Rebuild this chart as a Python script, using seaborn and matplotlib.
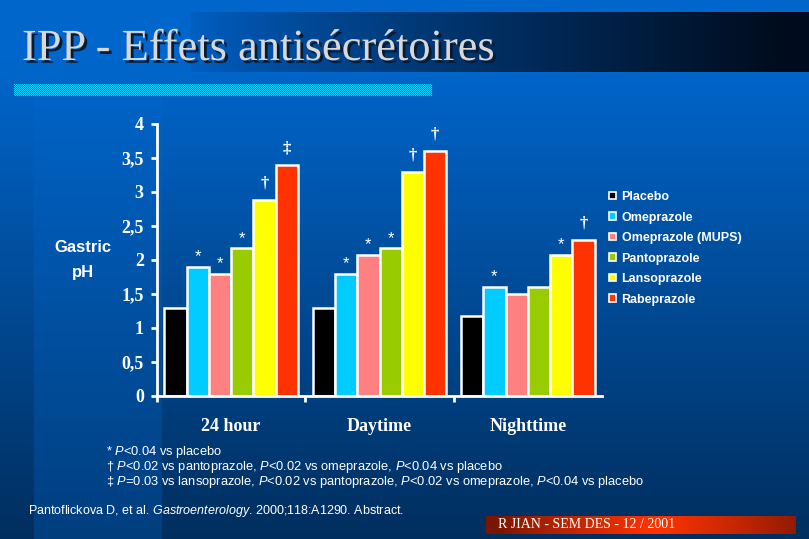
import numpy as np
import pandas as pd
import matplotlib
matplotlib.use("Agg")
import matplotlib.pyplot as plt
import matplotlib.patches as mpatches
import matplotlib.patheffects as pe
import seaborn as sns

# chart data
periods = ["24 hour", "Daytime", "Nighttime"]
drugs = ["Placebo", "Omeprazole", "Omeprazole (MUPS)", "Pantoprazole", "Lansoprazole", "Rabeprazole"]
ph_placebo = [1.3, 1.3, 1.18]
ph_omep = [1.9, 1.8, 1.6]
ph_mups = [1.8, 2.08, 1.5]
ph_panto = [2.17, 2.17, 1.6]
ph_lanso = [2.88, 3.3, 2.08]
ph_rabe = [3.4, 3.6, 2.3]
marks_placebo = ["", "", ""]
marks_omep = ["*", "*", "*"]
marks_mups = ["*", "*", ""]
marks_panto = ["*", "*", ""]
marks_lanso = ["\u2020", "\u2020", "*"]
marks_rabe = ["\u2021", "\u2020", "\u2020"]
yticks = [0, 0.5, 1, 1.5, 2, 2.5, 3, 3.5, 4]
ytick_labels = ["0", "0,5", "1", "1,5", "2", "2,5", "3", "3,5", "4"]
colors = ["#000000", "#00ccff", "#ff8080", "#99cc00", "#ffff00", "#ff3300"]

values = [ph_placebo, ph_omep, ph_mups, ph_panto, ph_lanso, ph_rabe]
marks = [marks_placebo, marks_omep, marks_mups, marks_panto, marks_lanso, marks_rabe]
rows = []
for d, vals in zip(drugs, values):
    for p, v in zip(periods, vals):
        rows.append({"period": p, "drug": d, "ph": v})
df = pd.DataFrame(rows)

plt.rcParams["mathtext.fontset"] = "custom"
plt.rcParams["mathtext.it"] = "Liberation Sans:italic"
plt.rcParams["mathtext.rm"] = "Liberation Sans"

W, H = 809, 539
fig = plt.figure(figsize=(W / 100, H / 100), dpi=100)


def px(x, y):
    return x / W, 1 - y / H


# slide background
yy = np.clip((np.arange(H) - 60) / (H - 60), 0, 1)[:, None]
top = np.array([0, 102, 204]) / 255
bot = np.array([0, 46, 94]) / 255
bot_band = np.array([0, 62, 126]) / 255
bg = top + (bot - top) * yy[..., None]
bg = np.repeat(bg, W, axis=1)
band = top + (bot_band - top) * yy[..., None]
bg[:, 34:162] = band[:, 0][:, None, :]

# title band gradient
tx = np.clip((np.arange(W) - 190) / (780 - 190), 0, 1) ** 0.8
c0 = np.array([0, 96, 196]) / 255
c1 = np.array([0, 12, 30]) / 255
bg[12:72, 190:] = (c0 + (c1 - c0) * tx[190:, None])[None, :, :]

# checkered strip
cy, cx = np.mgrid[84:96, 14:432]
chk = ((cx + cy) % 2 == 0)[..., None]
bg[84:96, 14:432] = np.where(chk, np.array([0, 204, 255]) / 255, np.array([0, 102, 204]) / 255)

# footer banner
fx = np.arange(486, 796)
t = (fx - 486) / (796 - 486)
w = np.clip(1 - np.abs(t - 0.55) / 0.5, 0, 1) ** 0.8
d0 = np.array([122, 22, 0]) / 255
d1 = np.array([255, 51, 0]) / 255
bg[516:534, 486:796] = (d0 + (d1 - d0) * w[:, None])[None, :, :]

bax = fig.add_axes([0, 0, 1, 1], zorder=0)
bax.imshow(bg, aspect="auto", interpolation="nearest", extent=(0, W, H, 0))
bax.set_axis_off()

# title
fig.text(*px(22, 60), "IPP - Effets antis\u00e9cr\u00e9toires", family="Liberation Serif",
         fontsize=32, color="#d8d8d8", va="baseline", ha="left",
         path_effects=[pe.SimplePatchShadow(offset=(2, -2), shadow_rgbFace="#0a1a30", alpha=1), pe.Normal()])

# bar chart
ax = fig.add_axes([157 / W, 1 - 396 / H, 445 / W, 272 / H], zorder=2)
ax.set_facecolor("none")
sns.barplot(data=df, x="period", y="ph", hue="drug", order=periods, hue_order=drugs,
            palette=colors, width=0.9, edgecolor="white", linewidth=1.8, saturation=1,
            legend=False, ax=ax)

for cont, mk in zip(ax.containers, marks):
    for bar, m in zip(cont, mk):
        if not m:
            continue
        if m == "*":
            ax.annotate(m, (bar.get_x() + bar.get_width() / 2, bar.get_height()), xytext=(0, 2),
                        textcoords="offset points", ha="center", va="bottom", color="white",
                        fontsize=12, family="Liberation Sans")
        else:
            ax.annotate(m, (bar.get_x() + bar.get_width() / 2, bar.get_height()), xytext=(0, 6),
                        textcoords="offset points", ha="center", va="bottom", color="white",
                        fontsize=12, family="Liberation Serif", weight="bold")

ax.set_ylim(0, 4)
ax.set_xlim(-0.5, 2.5)
ax.set_yticks(yticks, labels=ytick_labels)
ax.set_xticks([-0.5, 0.5, 1.5], labels=["", "", ""])
ax.set_xticks([0, 1, 2], labels=periods, minor=True)
ax.set_xlabel("")
ax.set_ylabel("")
for s in ["top", "right"]:
    ax.spines[s].set_visible(False)
for s in ["left", "bottom"]:
    ax.spines[s].set_color("white")
    ax.spines[s].set_linewidth(2)
ax.tick_params(axis="y", colors="white", length=4.5, width=2, pad=5)
ax.tick_params(axis="x", which="major", colors="white", length=4.5, width=2)
ax.tick_params(axis="x", which="minor", length=0, pad=16, labelcolor="white")
for lab in ax.get_yticklabels() + ax.get_xticklabels(minor=True):
    lab.set_family("Liberation Serif")
    lab.set_weight("bold")
    lab.set_fontsize(13)

fig.text(*px(83, 248), "Gastric", ha="center", va="center", color="white",
         family="Liberation Sans", weight="bold", fontsize=12)
fig.text(*px(83, 273), "pH", ha="center", va="center", color="white",
         family="Liberation Sans", weight="bold", fontsize=12)

handles = [mpatches.Patch(facecolor=c, edgecolor="white", linewidth=1.2) for c in colors]
fig.legend(handles, drugs, loc="upper left", bbox_to_anchor=px(609, 191), frameon=False,
           prop=dict(family="Liberation Sans", weight="bold", size=9), labelcolor="white",
           handlelength=0.55, handleheight=0.55, handletextpad=0.45, labelspacing=0.68,
           borderaxespad=0, borderpad=0)

# footnotes
notes = [
    r"* $\it{P}$<0.04 vs placebo",
    "\u2020 " + r"$\it{P}$<0.02 vs pantoprazole, $\it{P}$<0.02 vs omeprazole, $\it{P}$<0.04 vs placebo",
    "\u2021 " + r"$\it{P}$=0.03 vs lansoprazole, $\it{P}$<0.02 vs pantoprazole, $\it{P}$<0.02 vs omeprazole, $\it{P}$<0.04 vs placebo",
]
for i, n in enumerate(notes):
    fig.text(*px(106, 452 + 15 * i), n, ha="left", va="center", color="white",
             family="Liberation Sans", fontsize=9.3)

fig.text(*px(28, 511), r"Pantoflickova D, et al. $\it{Gastroenterology}$. 2000;118:A1290. Abstract.",
         ha="left", va="center", color="white", family="Liberation Sans", fontsize=9)
fig.text(*px(498, 525), "R JIAN - SEM DES - 12 / 2001", ha="left", va="center", color="white",
         family="Liberation Serif", fontsize=10)

fig.savefig("out.png", dpi=100)
